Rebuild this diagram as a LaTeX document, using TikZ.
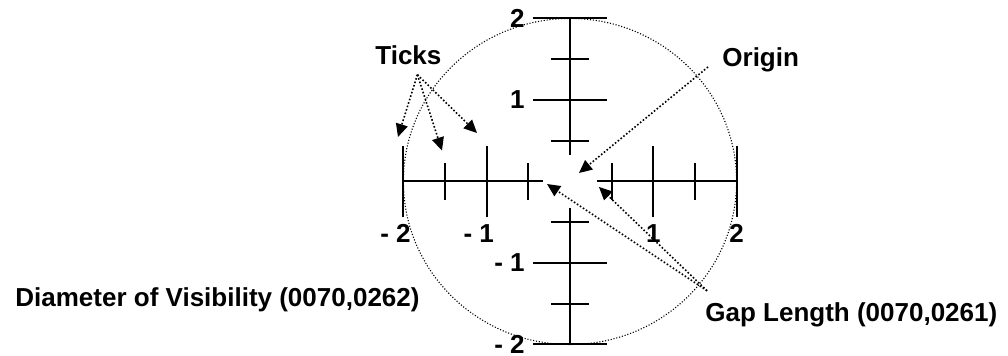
\documentclass[tikz,border=0pt]{standalone}
\usepackage{fontspec}
\setmainfont{Liberation Sans}
\usetikzlibrary{arrows.meta,positioning}

\begin{document}
\begin{tikzpicture}[
    x=41.65pt, y=40.75pt,
    font=\fontsize{13}{15}\selectfont\bfseries,
    axis/.style={line width=1pt},
    bigtick/.style={line width=1pt},
    smalltick/.style={line width=1pt},
    rim/.style={line width=0.55pt, dash pattern=on 0.55pt off 0.9pt},      % circle of visibility
    pointer/.style={line width=0.8pt, dash pattern=on 0.8pt off 1pt,
                    -{Triangle[length=6.5pt, width=6pt]}},
    lbl/.style={inner sep=0pt},
    axlbl/.style={inner sep=0pt}
  ]

  \useasboundingbox (-285pt,-87.25pt) rectangle (219pt,90.75pt);

% Reticle: two broken axes with ticks every 0.5, gap round the origin.

% --- Circle of visibility ---
    \coordinate (centre) at (0,0);
    \draw[rim] (centre) ellipse (2 and 2);

% --- Horizontal axis ---
    \draw[axis] (-2,0) -- (-0.33,0);
    \draw[axis] (0.33,0) -- (2,0);
    \draw[bigtick]   (-2,-0.44)   -- (-2,0.44);
    \draw[smalltick] (-1.5,-0.23) -- (-1.5,0.23);
    \draw[bigtick]   (-1,-0.44)   -- (-1,0.44);
    \draw[smalltick] (-0.5,-0.23) -- (-0.5,0.23);
    \draw[smalltick] (0.5,-0.23)  -- (0.5,0.23);
    \draw[bigtick]   (1,-0.44)    -- (1,0.44);
    \draw[smalltick] (1.5,-0.23)  -- (1.5,0.23);
    \draw[bigtick]   (2,-0.44)    -- (2,0.44);

% --- Vertical axis ---
    \draw[axis] (0,2) -- (0,0.32);
    \draw[axis] (0,-0.32) -- (0,-2);
    \draw[bigtick]   (-0.44,2)    -- (0.44,2);
    \draw[smalltick] (-0.23,1.5)  -- (0.23,1.5);
    \draw[bigtick]   (-0.44,1)    -- (0.44,1);
    \draw[smalltick] (-0.23,0.5)  -- (0.23,0.5);
    \draw[smalltick] (-0.23,-0.5) -- (0.23,-0.5);
    \draw[bigtick]   (-0.44,-1)   -- (0.44,-1);
    \draw[smalltick] (-0.23,-1.5) -- (0.23,-1.5);
    \draw[bigtick]   (-0.44,-2)   -- (0.44,-2);

% --- Axis numbers ---
    \node[axlbl, anchor=north] (xmtwo) at (-2,-0.52) {\llap{- }2};
    \node[axlbl, anchor=north] (xmone) at (-1,-0.52) {\llap{- }1};
    \node[axlbl, anchor=north] (xone)  at (1,-0.52)  {1};
    \node[axlbl, anchor=north] (xtwo)  at (2,-0.52)  {2};
    \node[axlbl, anchor=east] (ytwo)  at (-0.54,2)  {2};
    \node[axlbl, anchor=east] (yone)  at (-0.54,1)  {1};
    \node[axlbl, anchor=east] (ymone) at (-0.54,-1) {- 1};
    \node[axlbl, anchor=east] (ymtwo) at (-0.54,-2) {- 2};

% --- Callouts ---
    \node[lbl, anchor=base west] (tickslbl)  at (-2.341,1.441)  {Ticks};
    \node[lbl, anchor=base west] (originlbl) at (1.825,1.405)   {Origin};
    \node[lbl, anchor=base east] (diamlbl)   at (-1.801,-1.540) {Diameter of Visibility (0070,0262)};
    \node[lbl, anchor=base west] (gaplbl)    at (1.621,-1.712)  {Gap Length (0070,0261)};

    \coordinate (tipa)  at (-2.065,0.546);
    \coordinate (tipb)  at (-1.537,0.380);
    \coordinate (tipc)  at (-1.116,0.595);
    \coordinate (tipo)  at (0.108,0.104);
    \coordinate (tipgl) at (-0.276,-0.031);
    \coordinate (tipgr) at (0.348,-0.067);

    \draw[pointer] ([shift={(4.5pt,-5pt)}]tickslbl.south) -- (tipa);
    \draw[pointer] ([shift={(4.5pt,-5pt)}]tickslbl.south) -- (tipb);
    \draw[pointer] ([shift={(4.5pt,-5pt)}]tickslbl.south) -- (tipc);
    \draw[pointer] ([xshift=-7pt]originlbl.base west) -- (tipo);
    \draw[pointer] ([shift={(1pt,5.5pt)}]gaplbl.north west) -- (tipgl);
    \draw[pointer] ([shift={(1pt,5.5pt)}]gaplbl.north west) -- (tipgr);

  \end{tikzpicture}
\end{document}
